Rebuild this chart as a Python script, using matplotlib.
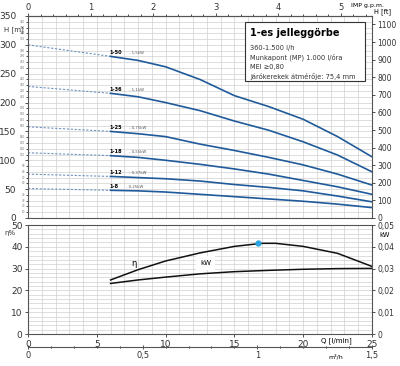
import numpy as np
import matplotlib.pyplot as plt
from matplotlib.ticker import MultipleLocator, FuncFormatter

# pump curves, Q in l/min, H in m
q_dash = [0, 6]
models = ['1-50', '1-36', '1-25', '1-18', '1-12', '1-8']
powers = ['1,5kW', '1,1kW', '0,75kW', '0,55kW', '0,37kW', '0,25kW']
h_shutoff = [300, 228, 158, 113, 76, 51]

q_curve = [6, 8, 10, 12.5, 15, 17.5, 20, 22.5, 25]
h_150 = [280, 273, 262, 240, 212, 193, 171, 141, 106]
h_136 = [216, 210, 200, 186, 168, 152, 132, 109, 80]
h_125 = [150, 146, 141, 128, 117, 105, 92, 76, 57]
h_118 = [108, 105, 100, 93, 85, 76, 65, 54, 41]
h_112 = [72, 70, 68, 64, 58, 53, 47, 38, 28]
h_18 = [48, 47, 45, 41, 37, 33, 29, 24, 18]
heads = [h_150, h_136, h_125, h_118, h_112, h_18]

# efficiency and power
q_eff = [6, 8, 10, 12.5, 15, 17, 18, 20, 22.5, 25]
eta = [24.8, 29.5, 33.5, 37.2, 40.2, 41.6, 41.6, 40.2, 37.0, 31.0]
q_kw = [6, 8, 10, 12.5, 15, 17.5, 20, 22.5, 25]
kw = [0.0232, 0.0248, 0.0261, 0.0276, 0.0286, 0.0292, 0.0297, 0.0300, 0.0301]
mp_q, mp_eta = 16.7, 41.7

line_c = '#1f5a9a'
dash_c = '#6d93bf'
grid_c = '#d0d0d0'
spine_c = '#555555'

fig = plt.figure(figsize=(4, 3.66), dpi=100)
ax = fig.add_axes([0.07, 0.4044, 0.86, 0.5519])
ax2 = fig.add_axes([0.07, 0.0874, 0.86, 0.2978])


def comma(v, p):
    return ('%g' % v).replace('.', ',')


for a in (ax, ax2):
    a.set_xlim(0, 25)
    a.xaxis.set_minor_locator(MultipleLocator(1))
    a.grid(True, which='both', color=grid_c, lw=0.5)
    a.set_axisbelow(True)
    for s in a.spines.values():
        s.set_color(spine_c)
        s.set_linewidth(0.8)
    a.tick_params(colors='#333333', labelsize=6.5, length=2.5, width=0.6, pad=1.5)
    a.tick_params(which='minor', length=1.5, width=0.5)

# top panel
ax.set_ylim(0, 350)
ax.yaxis.set_major_locator(MultipleLocator(50))
ax.yaxis.set_minor_locator(MultipleLocator(10))
ax.xaxis.set_major_locator(MultipleLocator(5))
ax.tick_params(axis='x', which='both', labelbottom=False, length=0)
ax.tick_params(axis='y', which='major', pad=6)
for v in range(10, 350, 10):
    if v % 50:
        ax.text(-0.2, v, str(v), fontsize=2.0, color='#777777', ha='right', va='center')
ax.text(-1.75, 327, 'H [m]', fontsize=5, ha='left', va='center', color='#333333')

for name, pw, h0, h in zip(models, powers, h_shutoff, heads):
    ax.plot(q_dash, [h0, h[0]], ls=(0, (2, 1.5)), color=dash_c, lw=0.8)
    ax.plot(q_curve, h, color=line_c, lw=1.2)
    ax.text(5.95, h[0] + 3, name, fontsize=3.6, fontweight='bold', ha='left', va='bottom')
    ax.text(5.95 + 0.25 * len(name) + 0.4, h[0] + 3, '- ' + pw, fontsize=2.8,
            color='#555555', ha='left', va='bottom')

# right feet axis
axf = ax.twinx()
axf.set_ylim(0, 350 * 3.2808)
axf.yaxis.set_major_locator(MultipleLocator(100))
axf.tick_params(labelsize=5.5, length=2.5, width=0.6, pad=1.5, colors='#333333')
for s in axf.spines.values():
    s.set_visible(False)
axf.text(1.005, 1.005, 'H [ft]', transform=ax.transAxes, fontsize=4.8, ha='left', va='bottom')

# top IMP gpm axis
top = ax.secondary_xaxis('top', functions=(lambda x: x / 4.546, lambda g: g * 4.546))
top.xaxis.set_major_locator(MultipleLocator(1))
top.xaxis.set_minor_locator(MultipleLocator(0.2))
top.tick_params(labelsize=6, length=2.5, width=0.6, pad=0.5, colors='#333333')
top.tick_params(which='minor', length=1.5, width=0.5)
top.spines['top'].set_color(spine_c)
fig.text(0.878, 0.984, 'IMP g.p.m.', fontsize=4.5, ha='left', va='center')

# info box
ax.text(0.645, 0.94, '1-es jelleggörbe', transform=ax.transAxes, fontsize=7,
        fontweight='bold', va='top', ha='left', zorder=6)
ax.text(0.645, 0.855, '360-1.500 l/h\nMunkapont (MP) 1.000 l/óra\nMEI ≥0,80\nJárókerekek átmérője: 75,4 mm',
        transform=ax.transAxes, fontsize=4.8, va='top', ha='left', linespacing=1.45,
        color='#333333', zorder=6)
ax.add_patch(plt.Rectangle((0.63, 0.68), 0.35, 0.29, transform=ax.transAxes,
                           facecolor='white', edgecolor='#333333', lw=0.8, zorder=5))

# bottom panel
ax2.set_ylim(0, 50)
ax2.yaxis.set_major_locator(MultipleLocator(10))
ax2.yaxis.set_minor_locator(MultipleLocator(2))
ax2.xaxis.set_major_locator(MultipleLocator(5))
ax2.tick_params(axis='y', which='minor', length=0)
ax2.tick_params(axis='x', which='minor', length=0)
ax2.plot(q_eff, eta, color='#111111', lw=1.1)
ax2.plot(q_kw, [v * 1000 for v in kw], color='#111111', lw=1.1)
ax2.plot([mp_q], [mp_eta], 'o', color='#29a3e0', ms=3.5, zorder=5)
ax2.text(7.7, 32.5, 'η', fontsize=6, ha='center', va='center')
ax2.text(12.9, 32.5, 'kW', fontsize=5, ha='center', va='center',
         bbox=dict(facecolor='white', edgecolor='none', pad=3))
ax2.text(-1.75, 46.5, 'η%', fontsize=5, ha='left', va='center', color='#333333')
ax2.text(22.4, -0.03, 'Q [l/min]', transform=ax2.get_xaxis_transform(), fontsize=5,
         ha='center', va='top')

axk = ax2.twinx()
axk.set_ylim(0, 0.05)
axk.yaxis.set_major_locator(MultipleLocator(0.01))
axk.yaxis.set_major_formatter(FuncFormatter(comma))
axk.tick_params(labelsize=5.5, length=2.5, width=0.6, pad=1.5, colors='#333333')
for s in axk.spines.values():
    s.set_visible(False)
axk.text(1.02, 0.91, 'kW', transform=ax2.transAxes, fontsize=4.8, ha='left', va='center')

# m3/h axis
m3 = ax2.secondary_xaxis(-0.12, functions=(lambda x: x * 0.06, lambda m: m / 0.06))
m3.xaxis.set_major_locator(MultipleLocator(0.5))
m3.xaxis.set_minor_locator(MultipleLocator(0.1))
m3.xaxis.set_major_formatter(FuncFormatter(comma))
m3.tick_params(labelsize=6, length=3, width=0.6, pad=1, colors='#333333', direction='inout')
m3.tick_params(which='minor', length=2, direction='inout')
m3.spines['bottom'].set_color(spine_c)
ax2.text(22.4, -0.21, 'm³/h', transform=ax2.get_xaxis_transform(), fontsize=4.5,
         ha='center', va='center')

fig.savefig('out.png', dpi=100)
